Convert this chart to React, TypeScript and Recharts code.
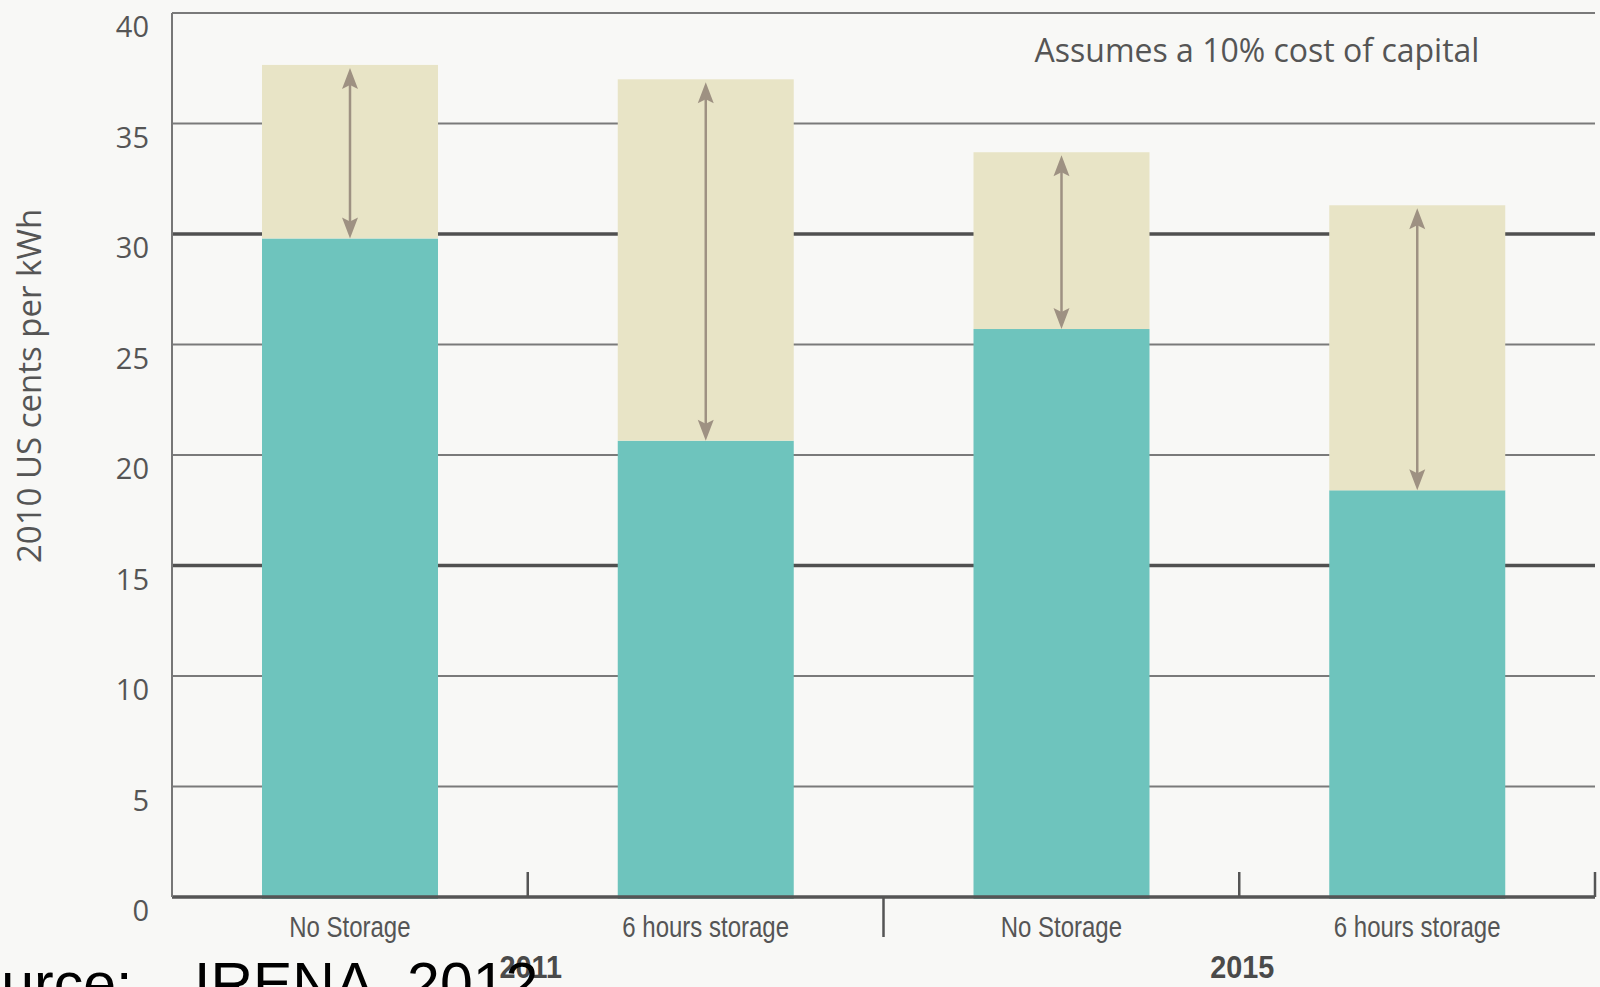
import React from "react";
import { BarChart, Bar, XAxis, YAxis, CartesianGrid, Rectangle } from "recharts";

const categories = ["No Storage", "6 hours storage", "No Storage", "6 hours storage"];
const yearGroups = ["2011", "2015"];
const baseCost = [29.8, 20.65, 25.7, 18.4];
const totalCost = [37.65, 37.0, 33.7, 31.3];
const yTicks = [0, 5, 10, 15, 20, 25, 30, 35, 40];
const strongGrid = [15, 30];

const TEAL = "#6ec4bd";
const BEIGE = "#e8e4c6";
const ARROW = "#9e9182";
const INK = "#555555";
const NARROW = "'Liberation Sans', Arial, sans-serif";

const data = categories.map((label, i) => ({
  label,
  base: baseCost[i],
  extra: +(totalCost[i] - baseCost[i]).toFixed(2),
}));

const YTick = (props: any) => {
  const { x, y, payload } = props;
  return (
    <text x={x} y={y} dy={24} textAnchor="end" fill={INK} fontSize={29} fontFamily="'Open Sans', sans-serif">
      {payload.value}
    </text>
  );
};

// category label + the boundary tick to its right + the year under every pair
const XTick = (props: any) => {
  const { x, y, payload, index } = props;
  const half = payload.offset ?? 0;
  const edge = x + half;
  const down = index === 1;
  return (
    <g>
      <text
        transform={`translate(${x},${y + 40}) scale(0.8,1)`}
        textAnchor="middle"
        fill={INK}
        fontSize={30}
        fontFamily={NARROW}
      >
        {payload.value}
      </text>
      <line x1={edge} x2={edge} y1={y} y2={down ? y + 40 : y - 25} stroke={INK} strokeWidth={2.5} />
      {index % 2 === 0 && (
        <text
          transform={`translate(${edge + 3},${y + 81}) scale(0.9,1)`}
          textAnchor="middle"
          fill="#4a4a4a"
          fontSize={32}
          fontWeight={700}
          fontFamily={NARROW}
        >
          {yearGroups[index / 2]}
        </text>
      )}
    </g>
  );
};

// teal part: pushed a hair below the baseline so it covers the axis line
const BaseShape = (props: any) => {
  const { x, y, width, height } = props;
  return <Rectangle x={x} y={y} width={width} height={height + 2} fill={TEAL} />;
};

// beige part with the double-headed arrow
const ExtraShape = (props: any) => {
  const { x, y, width, height } = props;
  const cx = x + width / 2;
  const top = y + 3;
  const bottom = y + height;
  return (
    <g>
      <rect x={x} y={y} width={width} height={height} fill={BEIGE} />
      <line x1={cx} x2={cx} y1={top + 15} y2={bottom - 15} stroke={ARROW} strokeWidth={2.5} />
      <path d={`M${cx},${top} L${cx - 8},${top + 21} L${cx},${top + 17} L${cx + 8},${top + 21} Z`} fill={ARROW} />
      <path
        d={`M${cx},${bottom} L${cx - 8},${bottom - 21} L${cx},${bottom - 17} L${cx + 8},${bottom - 21} Z`}
        fill={ARROW}
      />
    </g>
  );
};

export default function App() {
  return (
    <div
      style={{
        position: "absolute",
        left: 0,
        top: 0,
        width: 1600,
        height: 987,
        background: "#f8f8f6",
        overflow: "hidden",
      }}
    >
      <BarChart width={1600} height={987} data={data} margin={{ top: 13, right: 5, left: 0, bottom: 0 }}>
        <CartesianGrid vertical={false} stroke="#7a7a7a" strokeWidth={2} />
        <CartesianGrid vertical={false} horizontalValues={strongGrid} stroke="#505050" strokeWidth={3.5} />
        <XAxis
          dataKey="label"
          height={90}
          interval={0}
          tickLine={false}
          tickSize={0}
          tickMargin={0}
          axisLine={{ stroke: INK, strokeWidth: 3.5 }}
          tick={<XTick />}
        />
        <YAxis
          type="number"
          domain={[0, 40]}
          ticks={yTicks}
          width={172}
          tickLine={false}
          tickSize={0}
          tickMargin={23}
          axisLine={{ stroke: "#777", strokeWidth: 2 }}
          tick={<YTick />}
        />
        <Bar dataKey="base" stackId="cost" barSize={176} shape={<BaseShape />} isAnimationActive={false} />
        <Bar dataKey="extra" stackId="cost" barSize={176} shape={<ExtraShape />} isAnimationActive={false} />
      </BarChart>

      <svg width={1600} height={987} style={{ position: "absolute", left: 0, top: 0, pointerEvents: "none" }}>
        <text
          x={28}
          y={386}
          transform="rotate(-90 28 386)"
          textAnchor="middle"
          dominantBaseline="central"
          fill={INK}
          fontSize={33}
          fontFamily="'Open Sans', sans-serif"
        >
          2010 US cents per kWh
        </text>
        <text x={1257} y={62} textAnchor="middle" fill={INK} fontSize={32} fontFamily="'Open Sans', sans-serif">
          Assumes a 10% cost of capital
        </text>
        <text x={-71} y={1004} fill="#000" fontSize={59} fontFamily="'Liberation Sans', Arial, sans-serif">
          Source:
          <tspan x={194}>IRENA, 2012</tspan>
        </text>
      </svg>
    </div>
  );
}
